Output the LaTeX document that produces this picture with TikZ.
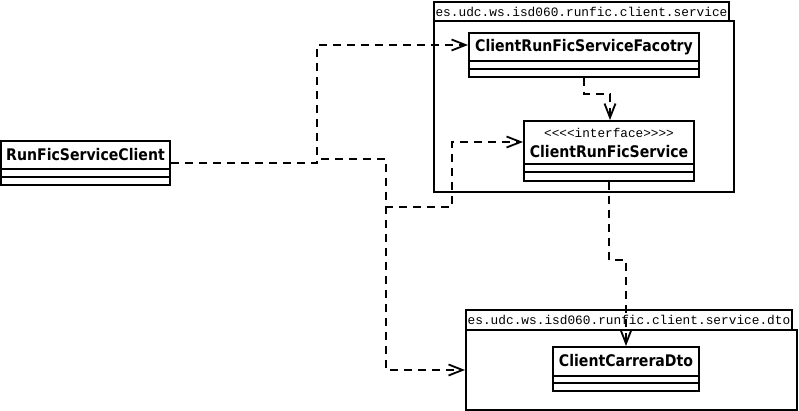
\documentclass[tikz,border=0pt]{standalone}
\usepackage{fontspec}
\newfontfamily\clsfont[FakeStretch=0.88]{DejaVu Sans}
\newfontfamily\pkgfont{Liberation Mono}
\usetikzlibrary{arrows.meta}
\begin{document}
\begin{tikzpicture}[x=1pt,y=-1pt,
 box/.style={draw, line width=2pt, inner sep=0pt, fill=white},
 comp/.style={line width=2pt},
 dep/.style={line width=1.6pt, dash pattern=on 8pt off 6pt, -{Straight Barb[length=14pt,width=11pt,line width=1.8pt]}},
 cname/.style={font=\clsfont\bfseries\fontsize{16}{18}\selectfont, inner sep=0pt},
 ptext/.style={font=\pkgfont\fontsize{12.8}{14}\selectfont, inner sep=0pt},
 stereo/.style={font=\pkgfont\fontsize{12.7}{14}\selectfont, inner sep=0pt}]
\useasboundingbox (0,0) rectangle (799,411);
% packages
\node[box, minimum width=300pt, minimum height=171pt] (pkg1) at (584,106.5) {};
\node[box, minimum width=295pt, minimum height=19pt, ptext] (pkg1tab) at (581.5,11.5) {es.udc.ws.isd060.runfic.client.service};
\node[box, minimum width=331pt, minimum height=80pt] (pkg2) at (631.5,370) {};
\node[box, minimum width=326pt, minimum height=20pt, ptext] (pkg2tab) at (629,320) {es.udc.ws.isd060.runfic.client.service.dto};
% classes
\node[box, minimum width=169pt, minimum height=44pt] (client) at (85.5,163) {};
\draw[comp] (client.west |- 0,169) -- (client.east |- 0,169);
\draw[comp] (client.west |- 0,177) -- (client.east |- 0,177);
\node[cname] (clientname) at (85.5,155) {RunFicServiceClient};

\node[box, minimum width=230pt, minimum height=44pt] (fac) at (584,55) {};
\draw[comp] (fac.west |- 0,61) -- (fac.east |- 0,61);
\draw[comp] (fac.west |- 0,69) -- (fac.east |- 0,69);
\node[cname] (facname) at (584,47) {ClientRunFicServiceFacotry};

\node[box, minimum width=170pt, minimum height=60pt] (svc) at (609,151) {};
\draw[comp] (svc.west |- 0,164) -- (svc.east |- 0,164);
\draw[comp] (svc.west |- 0,172) -- (svc.east |- 0,172);
\node[stereo] (svcstereo) at (609,133) {<<<<interface>>>>};
\node[cname] (svcname) at (609,152) {ClientRunFicService};

\node[box, minimum width=146pt, minimum height=44pt] (dto) at (626,369) {};
\draw[comp] (dto.west |- 0,376) -- (dto.east |- 0,376);
\draw[comp] (dto.west |- 0,383) -- (dto.east |- 0,383);
\node[cname] (dtoname) at (626,361) {ClientCarreraDto};

% dependencies
\draw[dep] (client.east) -- (317,163) -- (317,45) -- (fac.west |- 0,45);
\draw[dep] (client.east) -- (317,163) -- (317,159) -- (386,159) -- (386,207) -- (452,207) -- (452,142) -- (svc.west |- 0,142);
\draw[dep] (client.east) -- (317,163) -- (317,159) -- (386,159) -- (386,370) -- (pkg2.west);
\draw[dep] (fac.south) -- (584,94) -- (610,94) -- (svc.north -| 610,0);
\draw[dep] (svc.south) -- (609,260) -- (626,260) -- (dto.north);
\end{tikzpicture}
\end{document}
